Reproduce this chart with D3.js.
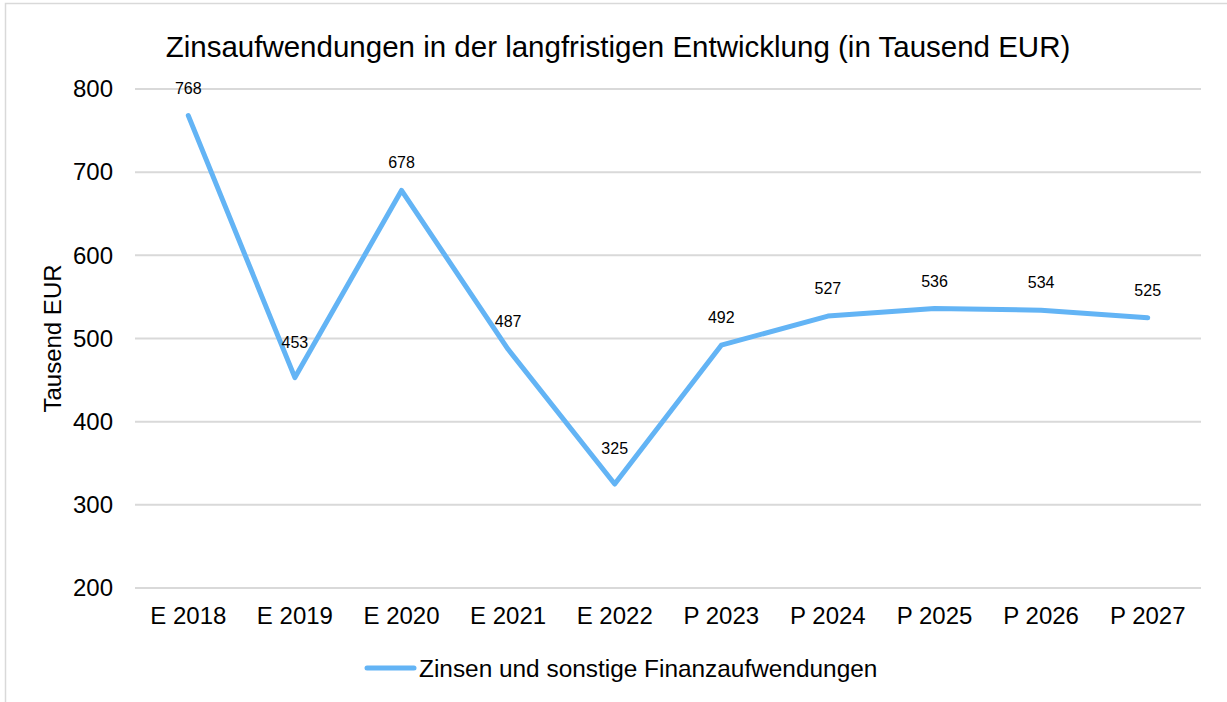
<!DOCTYPE html>
<html>
<head>
<meta charset="utf-8">
<script src="https://cdn.jsdelivr.net/npm/d3@7"></script>
<style>
  body { margin: 0; background: #fff; }
  svg { display: block; font-family: "Liberation Sans", Arial, sans-serif; }
</style>
</head>
<body>
<svg id="chart" width="1227" height="702"></svg>
<script>
// chart data
const categories = ['E 2018', 'E 2019', 'E 2020', 'E 2021', 'E 2022', 'P 2023', 'P 2024', 'P 2025', 'P 2026', 'P 2027'];
const values = [768, 453, 678, 487, 325, 492, 527, 536, 534, 525];
const yTicks = [200, 300, 400, 500, 600, 700, 800];
const seriesName = 'Zinsen und sonstige Finanzaufwendungen';
const title = 'Zinsaufwendungen in der langfristigen Entwicklung (in Tausend EUR)';

const width = 1227, height = 702;
const margin = { top: 89, right: 26, bottom: 114, left: 135 };
const lineColor = '#63b4f5';
const fontFamily = '"Liberation Sans", Arial, sans-serif';

const svg = d3.select('#chart');

// outer chart frame (only top/left edges visible)
svg.append('rect')
  .attr('x', 5.5).attr('y', 3.5)
  .attr('width', width + 20).attr('height', height + 20)
  .attr('fill', 'none')
  .attr('stroke', '#d9d9d9')
  .attr('stroke-width', 1.5);

const x = d3.scaleBand()
  .domain(categories)
  .range([margin.left, width - margin.right])
  .paddingInner(0).paddingOuter(0);

const y = d3.scaleLinear()
  .domain([200, 800])
  .range([height - margin.bottom, margin.top]);

// gridlines
svg.append('g')
  .selectAll('line')
  .data(yTicks)
  .enter().append('line')
  .attr('x1', margin.left).attr('x2', width - margin.right)
  .attr('y1', d => y(d)).attr('y2', d => y(d))
  .attr('stroke', '#d9d9d9')
  .attr('stroke-width', 2);

// y axis labels
const yAxis = svg.append('g')
  .attr('transform', `translate(${margin.left - 22},0)`)
  .call(d3.axisLeft(y).tickValues(yTicks).tickSize(0).tickPadding(0));
yAxis.select('.domain').remove();
yAxis.selectAll('text')
  .attr('font-size', 24)
  .attr('fill', '#000')
  .attr('font-family', fontFamily);

// x axis labels
const xAxis = svg.append('g')
  .attr('transform', `translate(0,${height - margin.bottom})`)
  .call(d3.axisBottom(x).tickSize(0).tickPadding(0));
xAxis.select('.domain').remove();
xAxis.selectAll('text')
  .attr('y', 36)
  .attr('dy', 0)
  .attr('font-size', 24)
  .attr('fill', '#000')
  .attr('font-family', fontFamily);

// y axis title
svg.append('text')
  .attr('transform', `translate(61,${(margin.top + height - margin.bottom) / 2}) rotate(-90)`)
  .attr('text-anchor', 'middle')
  .attr('font-size', 24)
  .text('Tausend EUR');

// title
svg.append('text')
  .attr('x', 618).attr('y', 57)
  .attr('text-anchor', 'middle')
  .attr('font-size', 29.5)
  .text(title);

// line
const cx = d => x(d) + x.bandwidth() / 2;
const line = d3.line()
  .x((d, i) => cx(categories[i]))
  .y(d => y(d));

svg.append('path')
  .datum(values)
  .attr('d', line)
  .attr('fill', 'none')
  .attr('stroke', lineColor)
  .attr('stroke-width', 5)
  .attr('stroke-linejoin', 'round')
  .attr('stroke-linecap', 'round');

// data labels: sit a bit higher at a dip so they clear the line
const isDip = i => i > 0 && i < values.length - 1 && values[i] < values[i - 1] && values[i] < values[i + 1];
svg.append('g')
  .selectAll('text')
  .data(values)
  .enter().append('text')
  .attr('x', (d, i) => cx(categories[i]))
  .attr('y', (d, i) => y(d) - (isDip(i) ? 30 : 22))
  .attr('text-anchor', 'middle')
  .attr('font-size', 16)
  .text(d => d);

// legend
const legend = svg.append('g').attr('transform', 'translate(367,668)');
legend.append('line')
  .attr('x1', 0).attr('x2', 47)
  .attr('stroke', lineColor)
  .attr('stroke-width', 5)
  .attr('stroke-linecap', 'round');
legend.append('text')
  .attr('x', 52).attr('y', 9)
  .attr('font-size', 24.4)
  .text(seriesName);
</script>
</body>
</html>
